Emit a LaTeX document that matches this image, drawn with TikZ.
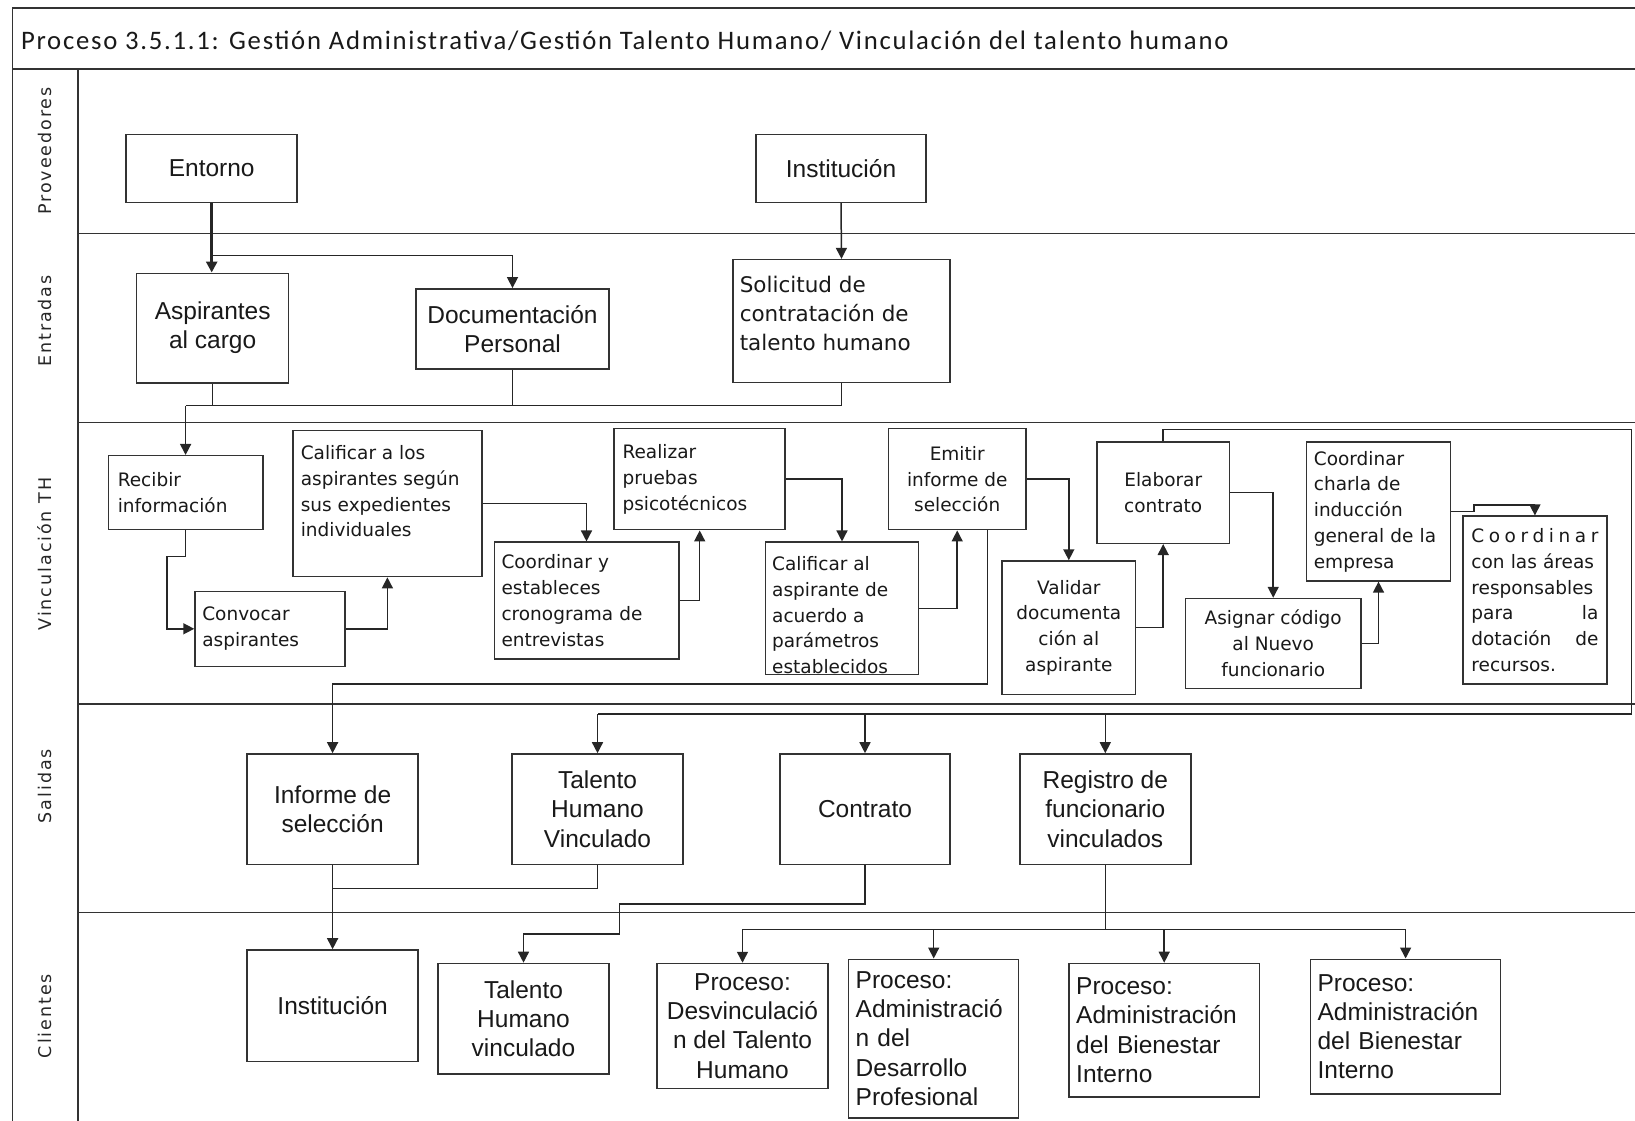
\documentclass[tikz,border=0pt]{standalone}
\usepackage{fontspec}
\setmainfont{Liberation Sans}
\newfontfamily\titlefont[LetterSpace=6.5]{Carlito}
\newfontfamily\smallfont{DejaVu Sans}
\newfontfamily\lanefont[LetterSpace=11]{DejaVu Sans}
\usetikzlibrary{arrows.meta}

\begin{document}
\begin{tikzpicture}[x=1pt,y=-1pt,
  line join=miter,
  frame/.style={draw=black!80, line width=1.6pt},
  box/.style={draw=black!80, line width=1.5pt, inner sep=0pt, fill=white, text=black!90},
  bigbox/.style={box, font=\fontsize{24.5}{29.2}\selectfont, align=center},
  smallbox/.style={box, font=\smallfont\fontsize{18.5}{25.7}\selectfont},
  smalltext/.style={inner sep=0pt, text=black!90, font=\smallfont\fontsize{18.5}{25.7}\selectfont, align=left},
  conn/.style={draw=black!85, line width=1.5pt},
  arr/.style={conn, -{Triangle[length=11pt,width=11pt]}},
  lane/.style={rotate=90, inner sep=0pt, text=black!85, font=\lanefont\fontsize{17.5}{20}\selectfont}
]
\useasboundingbox (0,0) rectangle (1635,1121);

% ---------- frame and swimlanes ----------
\draw[frame] (1635,8.3) -- (12.5,8.3) -- (12.5,1121);
\draw[frame] (12.5,68.8) -- (1635,68.8);
\draw[frame] (78.2,68.8) -- (78.2,1121);
\foreach \yy in {233.6,422.3,703.8,912.4}
  \draw[frame] (78.2,\yy) -- (1635,\yy);

\node[anchor=west, inner sep=0pt, text=black!90, font=\titlefont\fontsize{26.7}{30}\selectfont] (title) at (20.9,40.5)
  {Proceso 3.5.1.1: Gestión Administrativa/Gestión Talento Humano/ Vinculación del talento humano};

\node[lane] (lp) at (45,151) {Proveedores};
\node[lane] (le) at (45,321) {Entradas};
\node[lane] (lv) at (45,554) {Vinculación TH};
\node[lane] (ls) at (45,786) {Salidas};
\node[lane] (lc) at (45,1016) {Clientes};

% ---------- Proveedores ----------
\node[bigbox, minimum width=171pt, minimum height=68pt] (entorno) at (211.7,168.4) {Entorno};
\node[bigbox, minimum width=170pt, minimum height=68pt] (instA) at (841,168.4) {Institución};

% ---------- Entradas ----------
\node[bigbox, minimum width=152pt, minimum height=109.5pt] (asp) at (212.7,328) {Aspirantes\\al cargo};
\node[bigbox, minimum width=193pt, minimum height=80.3pt] (doc) at (512.5,329) {Documentación\\Personal};
\node[box, minimum width=217pt, minimum height=123pt] (sol) at (841.5,321.1) {};
\node[smalltext, anchor=north west, font=\smallfont\fontsize{21.5}{29}\selectfont, xshift=7.3pt, yshift=-17pt] (solt) at (sol.north west)
  {Solicitud de\\contratación de\\talento humano};

% ---------- Vinculación TH ----------
\node[smallbox, minimum width=154.4pt, minimum height=74pt, text width=135.6pt, align=left] (rec) at (185.6,492.7) {Recibir\\información};
\node[box, minimum width=188.7pt, minimum height=146pt] (calA) at (387.4,503.6) {};
\node[smalltext, anchor=north west, xshift=8.3pt, yshift=-15.5pt] (calAt) at (calA.north west)
  {Calificar a los\\aspirantes según\\sus expedientes\\individuales};
\node[smallbox, minimum width=150pt, minimum height=75pt, text width=135.4pt, align=left] (conv) at (270,628.8) {Convocar\\aspirantes};
\node[smallbox, minimum width=184.5pt, minimum height=116.8pt, text width=170pt, align=left] (coordY) at (586.5,600.6) {Coordinar y\\estableces\\cronograma de\\entrevistas};
\node[smallbox, minimum width=171pt, minimum height=101pt, text width=154.4pt, align=left] (real) at (699.7,479.2) {Realizar\\pruebas\\psicotécnicos};
\node[box, minimum width=153.2pt, minimum height=132.4pt] (calB) at (842,608.4) {};
\node[smalltext, anchor=north west, xshift=7.3pt, yshift=-15pt] (calBt) at (calB.north west)
  {Calificar al\\aspirante de\\acuerdo a\\parámetros\\establecidos};
\node[smallbox, minimum width=137.6pt, minimum height=101pt, align=center] (emit) at (957.2,479.2) {Emitir\\informe de\\selección};
\node[smallbox, minimum width=133.5pt, minimum height=133.4pt, align=center] (val) at (1068.8,627.7) {Validar\\documenta\\ción al\\aspirante};
\node[smallbox, minimum width=132.4pt, minimum height=101.2pt, align=center] (elab) at (1163.2,492.7) {Elaborar\\contrato};
\node[smallbox, minimum width=175.2pt, minimum height=89.7pt, align=center] (asig) at (1273.2,643.4) {Asignar código\\al Nuevo\\funcionario};
\node[smallbox, minimum width=143.9pt, minimum height=138.7pt, text width=129.3pt, align=left] (charla) at (1378.5,511.5) {Coordinar\\charla de\\inducción\\general de la\\empresa};
\node[smallbox, minimum width=143.9pt, minimum height=167.8pt, text width=127pt, align=left] (coordC) at (1534.9,600.1)
  {C\hfill o\hfill o\hfill r\hfill d\hfill i\hfill n\hfill a\hfill r\\con las áreas\\responsables\\para\hfill la\\dotación\hfill de\\recursos.};

% ---------- Salidas ----------
\node[bigbox, minimum width=171pt, minimum height=110.5pt] (infS) at (332.6,809.2) {Informe de\\selección};
\node[bigbox, minimum width=171pt, minimum height=110.5pt] (thvS) at (597.5,809.2) {Talento\\Humano\\Vinculado};
\node[bigbox, minimum width=170pt, minimum height=110.5pt] (contS) at (865,809.2) {Contrato};
\node[bigbox, minimum width=171pt, minimum height=110.5pt] (regS) at (1105.3,809.2) {Registro de\\funcionario\\vinculados};

% ---------- Clientes ----------
\node[bigbox, minimum width=171pt, minimum height=111.5pt] (instC) at (332.6,1005.7) {Institución};
\node[bigbox, minimum width=171pt, minimum height=110.5pt] (thvC) at (523.5,1018.7) {Talento\\Humano\\vinculado};
\node[bigbox, minimum width=171pt, minimum height=125pt] (desv) at (742.5,1026) {Proceso:\\Desvinculació\\n del Talento\\Humano};
\node[bigbox, minimum width=170pt, minimum height=158.5pt, text width=156pt, align=left] (desa) at (933.7,1038.5) {Proceso:\\Administració\\n del\\Desarrollo\\Profesional};
\node[bigbox, minimum width=190.8pt, minimum height=133.5pt, text width=176pt, align=left] (bien1) at (1164.2,1030.2) {Proceso:\\Administración\\del Bienestar\\Interno};
\node[bigbox, minimum width=189.8pt, minimum height=134.5pt, text width=176pt, align=left] (bien2) at (1405.6,1026.5) {Proceso:\\Administración\\del Bienestar\\Interno};

% ---------- connectors: proveedores -> entradas ----------
\coordinate (jEnt) at (211.7,255.5);
\draw[arr, line width=3pt] (entorno.south) -- (entorno.south |- asp.north);
\draw[arr] (jEnt) -| (doc.north);
\draw[arr] (instA.south) -- (sol.north);

% ---------- entradas -> vinculación ----------
\coordinate (jIn) at (185.6,405.6);
\draw[conn] (sol.south) |- (jIn);
\draw[conn] (asp.south) -- (asp.south |- jIn);
\draw[conn] (doc.south) -- (doc.south |- jIn);
\draw[arr] (jIn) -- (rec.north);

% ---------- vinculación flow ----------
\draw[arr] (rec.south) -- ++(0,26) -- ++(-18.8,0) |- (conv.west);
\draw[arr] (conv.east) -| (calA.south);
\draw[arr] (calA.east) -| (coordY.north);
\draw[arr] (coordY.east) -| (real.south);
\draw[arr] (real.east) -| (calB.north);
\draw[arr] (calB.east) -| (emit.south);
\draw[arr] (emit.east) -| (val.north);
\draw[arr] (val.east) -| (elab.south);
\draw[arr] (elab.east) -| (asig.north);
\draw[arr] (asig.east) -| (charla.south);
\draw[arr] (charla.east) -- ++(23,0) -- ++(0,-6.5) -| (coordC.north);

% ---------- vinculación -> salidas ----------
\draw[arr] ([xshift=30.3pt]emit.south) -- ++(0,153.3) -| (infS.north);
\coordinate (eTop) at (1163.2,429.6);
\coordinate (eRight) at (1631.7,429.6);
\coordinate (busR) at (1631.7,714);
\coordinate (busL) at (597.5,714);
\draw[conn] (elab.north) -- (eTop) -- (eRight) -- (busR) -- (busL);
\draw[arr] (busL) -- (thvS.north);
\draw[arr] (busL -| contS.north) -- (contS.north);
\draw[arr] (busL -| regS.north) -- (regS.north);

% ---------- salidas -> clientes ----------
\coordinate (jInf) at (332.6,888.4);
\draw[arr] (infS.south) -- (instC.north);
\draw[conn] (thvS.south) |- (jInf);
\draw[arr] (contS.south) -- ++(0,38.9) -- ++(-245.4,0) -- ++(0,30) -| (thvC.north);
\coordinate (jReg) at (1105.3,929.3);
\draw[conn] (regS.south) -- (jReg);
\draw[conn] (desv.north |- jReg) -- (bien2.north |- jReg);
\draw[arr] (desv.north |- jReg) -- (desv.north);
\draw[arr] (desa.north |- jReg) -- (desa.north);
\draw[arr] (bien1.north |- jReg) -- (bien1.north);
\draw[arr] (bien2.north |- jReg) -- (bien2.north);
\end{tikzpicture}
\end{document}
